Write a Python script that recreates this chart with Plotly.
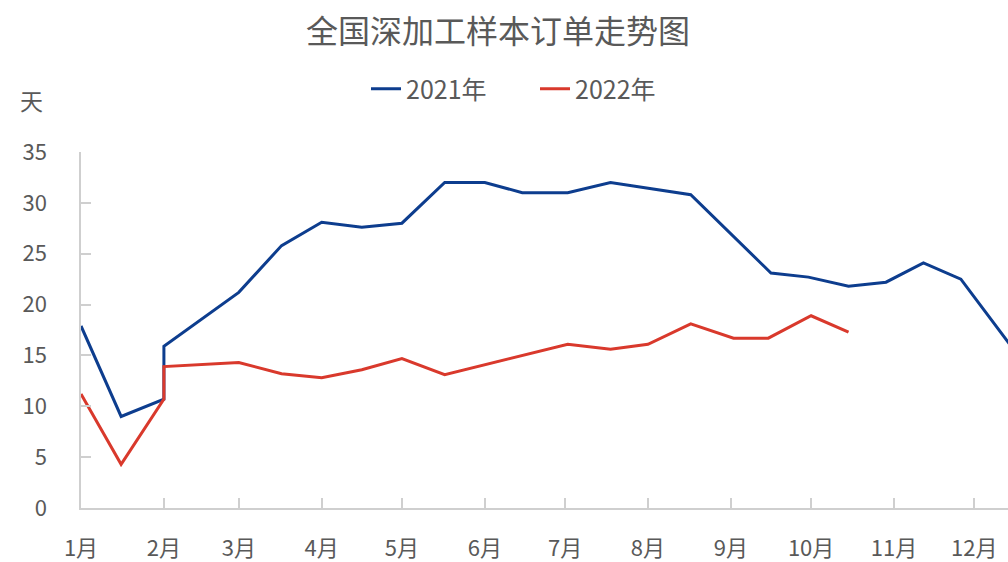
import plotly.graph_objects as go

# ---- data (base year 2021 used as a common calendar for both series) ----
dates_2021 = ["2021-01-01", "2021-01-16", "2021-02-01", "2021-02-01", "2021-03-01",
              "2021-03-17", "2021-04-01", "2021-04-16", "2021-05-01", "2021-05-17",
              "2021-06-01", "2021-06-15", "2021-07-02", "2021-07-18", "2021-08-17",
              "2021-09-16", "2021-09-30", "2021-10-15", "2021-10-29", "2021-11-12",
              "2021-11-26", "2021-12-16"]
values_2021 = [17.9, 9.0, 10.7, 15.9, 21.2,
               25.8, 28.1, 27.6, 28.0, 32.0,
               32.0, 31.0, 31.0, 32.0, 30.8,
               23.1, 22.7, 21.8, 22.2, 24.1,
               22.5, 15.5]

dates_2022 = ["2021-01-01", "2021-01-16", "2021-02-01", "2021-02-01", "2021-03-01",
              "2021-03-17", "2021-04-01", "2021-04-16", "2021-05-01", "2021-05-17",
              "2021-07-02", "2021-07-18", "2021-08-01", "2021-08-17", "2021-09-02",
              "2021-09-15", "2021-10-01", "2021-10-15"]
values_2022 = [11.2, 4.3, 10.7, 13.9, 14.3,
               13.2, 12.8, 13.6, 14.7, 13.1,
               16.1, 15.6, 16.1, 18.1, 16.7,
               16.7, 18.9, 17.3]

month_ticks = ["2021-%02d-01" % m for m in range(1, 13)]
month_labels = ["%d月" % m for m in range(1, 13)]

series_names = ["2021年", "2022年"]
colors = ["#0d3d8e", "#d9392c"]

title_text = "全国深加工样本订单走势图"
unit_text = "天"

FONT = "Noto Sans CJK SC, Microsoft YaHei, sans-serif"
TXT = "#595959"
AXC = "#cfcfcf"

fig = go.Figure()
fig.add_trace(go.Scatter(x=dates_2021, y=values_2021, mode="lines", name=series_names[0],
                         line=dict(color=colors[0], width=3)))
fig.add_trace(go.Scatter(x=dates_2022, y=values_2022, mode="lines", name=series_names[1],
                         line=dict(color=colors[1], width=3)))

fig.update_layout(
    width=1008, height=562,
    margin=dict(l=81, r=0, t=152, b=52),
    paper_bgcolor="white", plot_bgcolor="white",
    font=dict(family=FONT, color=TXT, size=22),
    title=dict(text=title_text, x=0.494, xref="container", xanchor="center",
               y=1 - 32 / 562, yref="container", yanchor="middle",
               font=dict(size=32, color=TXT, family=FONT)),
    showlegend=True,
    legend=dict(orientation="h", x=366 / 1008, xref="container", xanchor="left",
                y=1 - 89 / 562, yref="container", yanchor="middle",
                entrywidth=124, entrywidthmode="pixels",
                font=dict(size=25, color=TXT, family=FONT), bgcolor="rgba(0,0,0,0)"),
    xaxis=dict(type="date", range=["2021-01-01", "2021-12-13 15:00"],
               tickmode="array", tickvals=month_ticks, ticktext=month_labels,
               showgrid=False, zeroline=False, showline=True, linecolor=AXC, linewidth=1.5,
               ticks="inside", ticklen=10, tickwidth=1.5, tickcolor=AXC,
               ticklabelstandoff=20, tickfont=dict(size=22, color=TXT, family=FONT)),
    yaxis=dict(range=[0, 35], tickmode="array", tickvals=[0, 5, 10, 15, 20, 25, 30, 35],
               showgrid=False, zeroline=False, showline=True, linecolor=AXC, linewidth=1.5,
               ticks="inside", ticklen=10, tickwidth=1.5, tickcolor=AXC,
               ticklabelstandoff=28, tickfont=dict(size=22, color=TXT, family=FONT)),
    annotations=[dict(text=unit_text, xref="paper", yref="paper",
                      x=(31 - 81) / 927, y=(510 - 100) / 358, xanchor="center", yanchor="middle",
                      showarrow=False, font=dict(size=23, color=TXT, family=FONT))],
)

fig.write_html("out.html")
